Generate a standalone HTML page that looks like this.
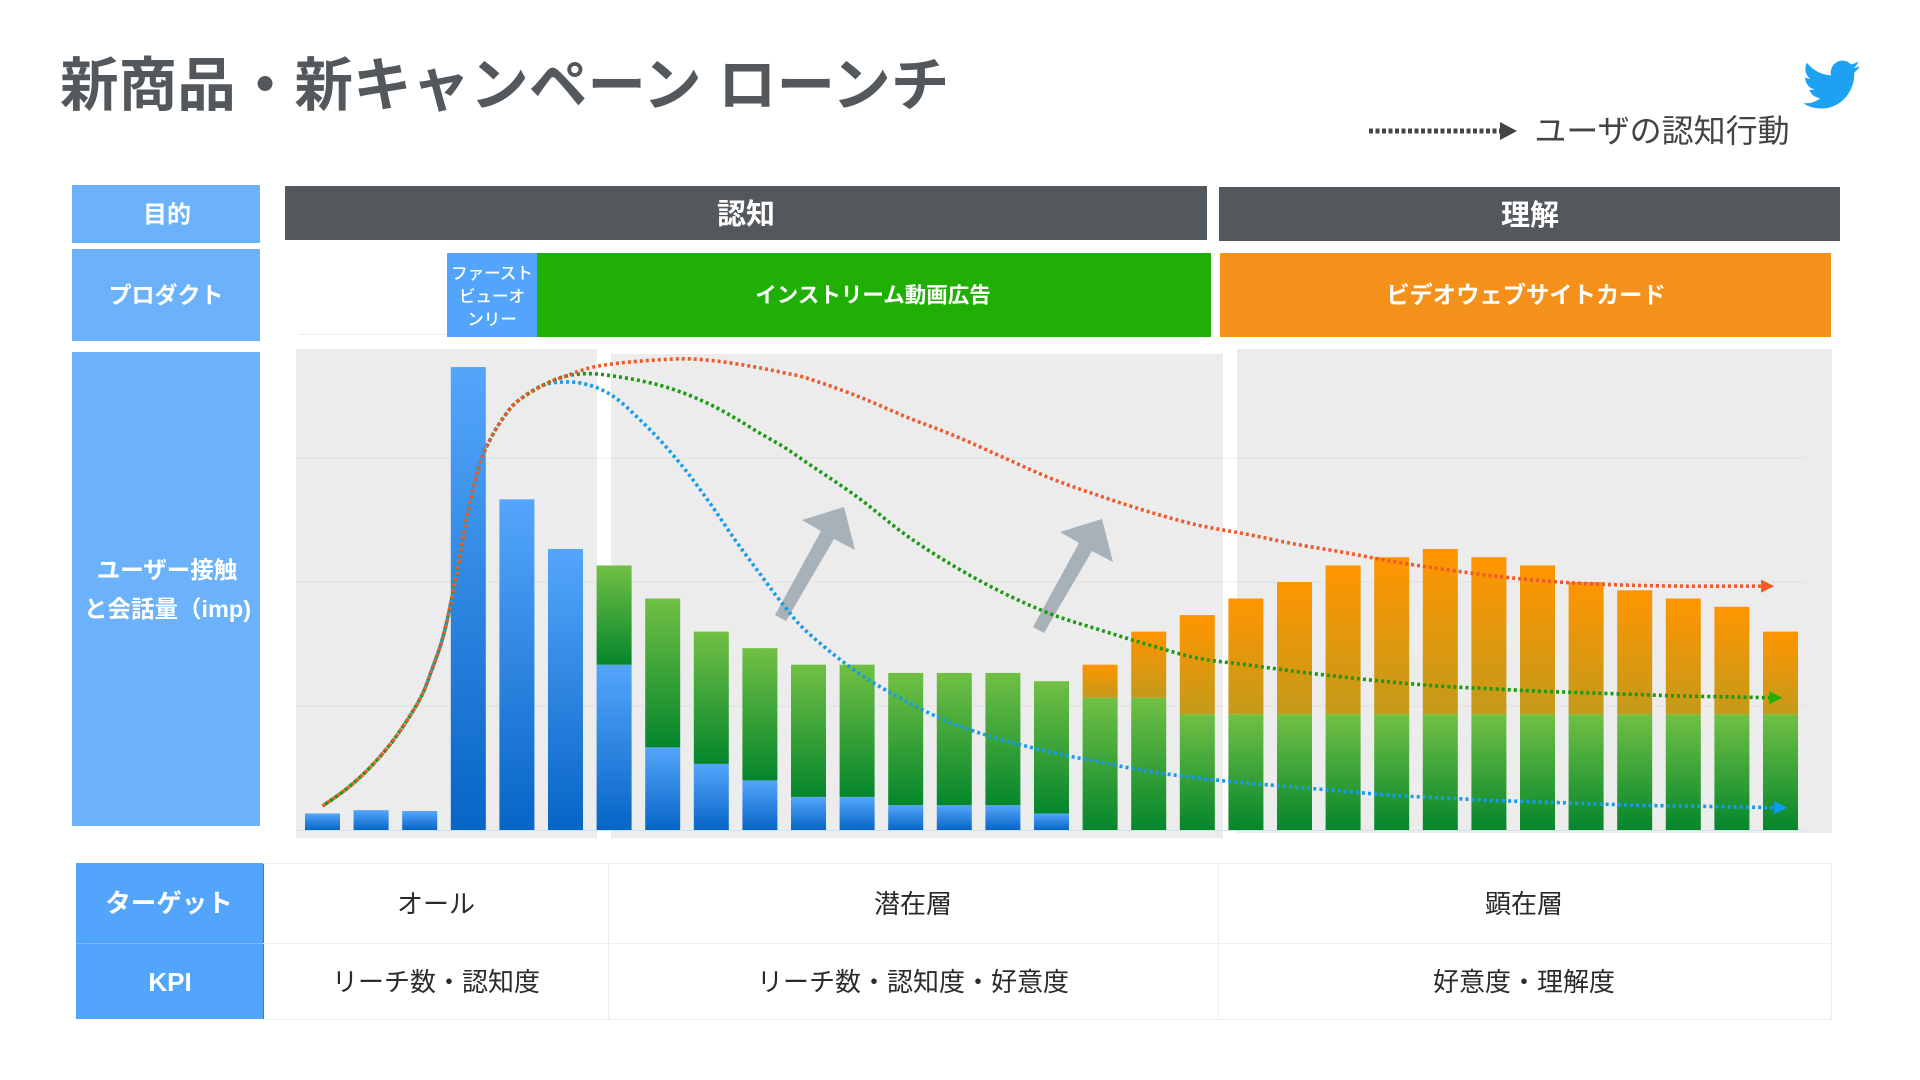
<!DOCTYPE html>
<html lang="ja">
<head>
<meta charset="utf-8">
<title>新商品・新キャンペーン ローンチ</title>
<style>
html,body{margin:0;padding:0;background:#fff;width:1920px;height:1080px;overflow:hidden}
svg{display:block}
text{font-family:"Liberation Sans","Noto Sans CJK JP",sans-serif;text-anchor:middle;dominant-baseline:central}
.w{fill:#fff;font-weight:700}
.t{fill:#2b2b2b;font-size:26px}
</style>
</head>
<body>
<svg id="chart" width="1920" height="1080" viewBox="0 0 1920 1080" xmlns="http://www.w3.org/2000/svg">
<defs>
<linearGradient id="grad-blue" x1="0" y1="0" x2="0" y2="1"><stop offset="0" stop-color="#54a6fb"/><stop offset="1" stop-color="#0765c6"/></linearGradient>
<linearGradient id="grad-green" x1="0" y1="0" x2="0" y2="1"><stop offset="0" stop-color="#71c044"/><stop offset="1" stop-color="#05862c"/></linearGradient>
<linearGradient id="grad-orange" x1="0" y1="0" x2="0" y2="1"><stop offset="0" stop-color="#ff9500"/><stop offset="1" stop-color="#c39a1a"/></linearGradient>
</defs>

<text x="60" y="86" style="text-anchor:start;font-size:58.6px;font-weight:700;fill:#53585c">新商品・新キャンペーン ローンチ</text>

<path transform="translate(1803 55) scale(2.38 2.46)" fill="#1da1f2" d="M23.953 4.57a10 10 0 01-2.825.775 4.958 4.958 0 002.163-2.723c-.951.555-2.005.959-3.127 1.184a4.92 4.92 0 00-8.384 4.482C7.69 8.095 4.067 6.13 1.64 3.162a4.822 4.822 0 00-.666 2.475c0 1.71.87 3.213 2.188 4.096a4.904 4.904 0 01-2.228-.616v.06a4.923 4.923 0 003.946 4.827 4.996 4.996 0 01-2.212.085 4.936 4.936 0 004.604 3.417 9.867 9.867 0 01-6.102 2.105c-.39 0-.779-.023-1.17-.067a13.995 13.995 0 007.557 2.209c9.053 0 13.998-7.496 13.998-13.985 0-.21 0-.42-.015-.63A9.935 9.935 0 0024 4.59z"/>

<g>
<line x1="1369" y1="131" x2="1501" y2="131" stroke="#444" stroke-width="5" stroke-dasharray="4 2.5"/>
<polygon points="1500,122 1517,131 1500,140" fill="#444"/>
<text x="1662" y="131" style="font-size:32px;fill:#444">ユーザの認知行動</text>
</g>

<g>
<rect x="72" y="185" width="188" height="58" fill="#6cb2fb"/>
<text class="w" x="167" y="215" style="font-size:24px">目的</text>
<rect x="72" y="249" width="188" height="92" fill="#6cb2fb"/>
<text class="w" x="166" y="295" style="font-size:23px">プロダクト</text>
<rect x="72" y="352" width="188" height="474" fill="#6cb2fb"/>
<text class="w" x="167" y="570" style="font-size:23.5px">ユーザー接触</text>
<text class="w" x="84" y="609" style="font-size:23.5px;text-anchor:start">と会話量（imp)</text>
</g>

<g>
<rect x="285" y="186" width="922" height="54" fill="#53585c"/>
<text class="w" x="746" y="215" style="font-size:29px">認知</text>
<rect x="1219" y="187" width="621" height="54" fill="#53585c"/>
<text class="w" x="1530" y="216" style="font-size:29px">理解</text>
</g>

<g>
<line x1="299" y1="334.5" x2="447" y2="334.5" stroke="#eee"/>
<rect x="447" y="253" width="90" height="84" fill="#52a5fb"/>
<text x="492" y="274" style="font-size:16.5px;fill:#fff;font-weight:500">ファースト</text>
<text x="492" y="297" style="font-size:16.5px;fill:#fff;font-weight:500">ビューオ</text>
<text x="492" y="320" style="font-size:16.5px;fill:#fff;font-weight:500">ンリー</text>
<rect x="537" y="253" width="674" height="84" fill="#20b005"/>
<text class="w" x="873" y="295.5" style="font-size:21.5px">インストリーム動画広告</text>
<rect x="1220" y="253" width="611" height="84" fill="#f4911b"/>
<text class="w" x="1526" y="295" style="font-size:23.3px">ビデオウェブサイトカード</text>
</g>

<g>
<rect x="296" y="349" width="301" height="489" fill="#ececec"/>
<rect x="611" y="354" width="612" height="484" fill="#ececec"/>
<rect x="1237" y="349" width="595" height="484" fill="#ececec"/>
</g>
<g id="grid"></g>
<g id="bars"></g>

<polygon fill="#a9b1b8" transform="translate(-258 -12)" points="1033,627 1044,633 1092,551 1113,562 1102,519 1060,532 1079,543"/>
<polygon fill="#a9b1b8" points="1033,627 1044,633 1092,551 1113,562 1102,519 1060,532 1079,543"/>

<g id="curves"></g>

<g>
<rect x="76" y="863" width="187" height="80" fill="#52a5fb"/>
<rect x="76" y="944" width="187" height="75" fill="#52a5fb"/>
<line x1="76" y1="943.5" x2="263" y2="943.5" stroke="#78b9fb"/>
<line x1="263.5" y1="863" x2="263.5" y2="1019" stroke="#5c7590"/>
<path fill="none" stroke="#efefef" d="M263 863.5H1831.5V1019.5H263M263 943.5H1831.5M608.5 863V1019M1218.5 863V1019"/>
<text class="w" x="169" y="904" style="font-size:25.5px">ターゲット</text>
<text class="w" x="170" y="982" style="font-size:26px">KPI</text>
<text class="t" x="436" y="904">オール</text>
<text class="t" x="913" y="904">潜在層</text>
<text class="t" x="1524" y="904">顕在層</text>
<text class="t" x="436" y="982">リーチ数・認知度</text>
<text class="t" x="913" y="982">リーチ数・認知度・好意度</text>
<text class="t" x="1524" y="982">好意度・理解度</text>
</g>
</svg>
<script>
const gridValues = [15, 30, 45];
const blueBars = [2, 2.4, 2.3, 56, 40, 34, 20, 10, 8, 6, 4, 4, 3, 3, 3, 2, 0, 0, 0, 0, 0, 0, 0, 0, 0, 0, 0, 0, 0, 0, 0];
const greenBars = [0, 0, 0, 0, 0, 0, 12, 18, 16, 16, 16, 16, 16, 16, 16, 16, 16, 16, 14, 14, 14, 14, 14, 14, 14, 14, 14, 14, 14, 14, 14];
const orangeBars = [0, 0, 0, 0, 0, 0, 0, 0, 0, 0, 0, 0, 0, 0, 0, 0, 4, 8, 12, 14, 16, 18, 19, 20, 19, 18, 16, 15, 14, 13, 10];
const curveGrid = [0, 0.5, 1, 1.5, 2, 2.25, 2.5, 2.75, 3, 3.25, 3.5, 3.75, 4, 4.5, 5, 5.5, 6, 6.5, 7, 7.5, 8, 8.5, 9, 9.5, 10, 11, 12, 13, 14, 15, 16, 17, 18, 19, 20, 21, 22, 23, 24, 25, 26, 27, 28, 29];
const blueCurveEnd = 29.87;
const greenCurveEnd = 29.77;
const redCurveEnd = 29.6;
const blueCurve = [2.9, 5.0, 7.7, 11.2, 15.8, 19.4, 23.8, 30.7, 38.7, 44.5, 47.8, 50.1, 51.8, 53.7, 54.2, 53.8, 52.4, 49.8, 46.8, 43.3, 39.3, 35, 31, 27.1, 23.8, 19.1, 15.6, 12.8, 10.9, 9.4, 8.2, 7.1, 6.3, 5.7, 5.2, 4.7, 4.2, 3.9, 3.6, 3.4, 3.2, 3.0, 2.9, 2.8, 2.7];
const greenCurve = [2.9, 5.0, 7.7, 11.2, 15.8, 19.4, 23.8, 30.7, 38.7, 44.5, 47.8, 50.1, 51.8, 53.7, 54.9, 55.2, 54.9, 54.4, 53.7, 52.7, 51.4, 49.8, 48, 46.3, 44.3, 40.3, 35.7, 31.9, 28.7, 26.1, 24.2, 22.4, 20.8, 20, 19.2, 18.5, 17.9, 17.4, 17.1, 16.8, 16.6, 16.4, 16.2, 16.1, 16.0];
const redCurve = [2.9, 5.0, 7.7, 11.2, 15.8, 19.4, 23.8, 30.7, 38.7, 44.5, 47.8, 50.1, 51.8, 53.7, 54.9, 55.9, 56.4, 56.7, 56.9, 57, 56.8, 56.4, 55.9, 55.3, 54.6, 52.5, 50, 47.7, 45.1, 42.5, 40.4, 38.5, 36.9, 35.8, 34.6, 33.6, 32.5, 31.6, 30.8, 30.2, 29.8, 29.6, 29.5, 29.5, 29.5];

const NS = 'http://www.w3.org/2000/svg';
const xScale = function (i) { return 322.5 + 48.6 * i; };
const yScale = function (v) { return 830 - v * 124 / 15; };
const BAR_W = 35;

const gridGroup = document.getElementById('grid');
gridValues.forEach(function (v) {
  const l = document.createElementNS(NS, 'line');
  
  
  l.setAttribute('x1', 296);
  l.setAttribute('x2', 1805);
  l.setAttribute('y1', yScale(v));
  l.setAttribute('y2', yScale(v));
  l.setAttribute('stroke', 'rgba(0,0,0,0.05)');
  gridGroup.appendChild(l);
});
const baseLine = document.createElementNS(NS, 'line');


baseLine.setAttribute('x1', 296);
baseLine.setAttribute('x2', 1805);
baseLine.setAttribute('y1', yScale(0) + 0.5);
baseLine.setAttribute('y2', yScale(0) + 0.5);
baseLine.setAttribute('stroke', '#d3e2ef');
gridGroup.appendChild(baseLine);

const barGroup = document.getElementById('bars');
function addSegment(i, from, to, fill, name) {
  if (to <= from) return;
  const r = document.createElementNS(NS, 'rect');
  
  
  r.setAttribute('x', xScale(i) - BAR_W / 2);
  r.setAttribute('y', yScale(to));
  r.setAttribute('width', BAR_W);
  r.setAttribute('height', yScale(from) - yScale(to));
  r.setAttribute('fill', fill);
  barGroup.appendChild(r);
}
blueBars.forEach(function (b, i) {
  const g = greenBars[i];
  const o = orangeBars[i];
  addSegment(i, 0, b, 'url(#grad-blue)', 'bar-first-view');
  addSegment(i, b, b + g, 'url(#grad-green)', 'bar-instream');
  addSegment(i, b + g, b + g + o, 'url(#grad-orange)', 'bar-website-card');
});

const curveGroup = document.getElementById('curves');
function drawCurve(values, endIndex, color, headColor, name, dash, offset) {
  const xs = curveGrid.concat([endIndex]);
  const pts = values.map(function (v, i) { return [xScale(xs[i]), yScale(v)]; });
  let d = 'M' + pts[0][0] + ' ' + pts[0][1];
  for (let i = 0; i < pts.length - 1; i++) {
    const p0 = pts[Math.max(0, i - 1)];
    const p1 = pts[i];
    const p2 = pts[i + 1];
    const p3 = pts[Math.min(pts.length - 1, i + 2)];
    const c1x = p1[0] + (p2[0] - p0[0]) / 6;
    const c1y = p1[1] + (p2[1] - p0[1]) / 6;
    const c2x = p2[0] - (p3[0] - p1[0]) / 6;
    const c2y = p2[1] - (p3[1] - p1[1]) / 6;
    d += 'C' + c1x.toFixed(2) + ' ' + c1y.toFixed(2) + ' ' + c2x.toFixed(2) + ' ' + c2y.toFixed(2) + ' ' + p2[0].toFixed(2) + ' ' + p2[1].toFixed(2);
  }
  const path = document.createElementNS(NS, 'path');
  
  
  path.setAttribute('d', d);
  path.setAttribute('fill', 'none');
  path.setAttribute('stroke', color);
  path.setAttribute('stroke-width', '3.6');
  path.setAttribute('stroke-dasharray', dash);
  path.setAttribute('stroke-dashoffset', offset);
  curveGroup.appendChild(path);
  const end = pts[pts.length - 1];
  const head = document.createElementNS(NS, 'polygon');
  
  
  head.setAttribute('points', end[0] + ',' + (end[1] - 6.5) + ' ' + (end[0] + 13) + ',' + end[1] + ' ' + end[0] + ',' + (end[1] + 6.5));
  head.setAttribute('fill', headColor);
  curveGroup.appendChild(head);
}
drawCurve(blueCurve, blueCurveEnd, '#1a9be8', '#0f9bfa', 'blue', '3 3.1', '1.5');
drawCurve(greenCurve, greenCurveEnd, '#1a9a10', '#20b005', 'green', '3 3.05', '3');
drawCurve(redCurve, redCurveEnd, '#ee5a2a', '#f55a22', 'red', '3 3', '0');
</script>
</body>
</html>
